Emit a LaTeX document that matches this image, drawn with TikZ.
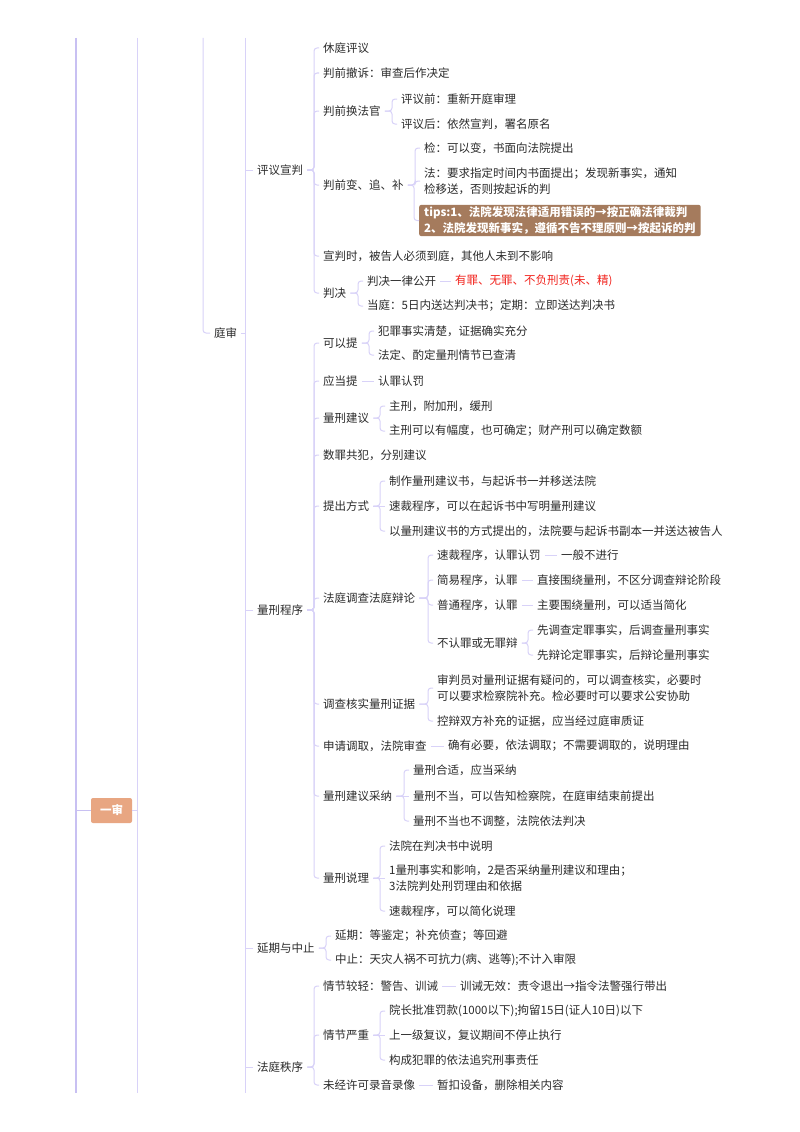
\documentclass[tikz,border=0pt]{standalone}
\usepackage{fontspec}
\setmainfont{Noto Sans CJK SC}
\usetikzlibrary{calc}
\definecolor{txt}{HTML}{2B2B2B}
\definecolor{ln}{HTML}{D8D2F8}
\definecolor{lnd}{HTML}{C8C0F2}
\definecolor{tipfill}{HTML}{A57B5D}
\definecolor{rootfill}{HTML}{E8A682}
\definecolor{redtxt}{HTML}{F2231D}
\newcommand\mmedge[2]{\draw[edge] (#2.west) -- ++(-5,0) |- (#1.east);}
\newcommand\mmline[2]{\draw[edge] (#1.east) -- (#2.west);}
\begin{document}
\begin{tikzpicture}[x=1pt,y=-1pt,
  t/.style={anchor=west, inner xsep=4pt, inner ysep=2pt, text=txt, font=\fontsize{11.5}{15.5}\selectfont, align=left},
  red/.style={t, text=redtxt},
  tipbox/.style={anchor=west, inner xsep=5pt, inner ysep=2pt, fill=tipfill, rounded corners=2pt, text=white, font=\fontsize{11.5}{15.5}\selectfont\bfseries, align=left},
  rootbox/.style={fill=rootfill, rounded corners=2pt, text=white, minimum width=41pt, minimum height=25pt, inner sep=0pt, font=\fontsize{11.5}{14}\selectfont\bfseries},
  edge/.style={draw=ln, line width=1pt, rounded corners=3pt},
  trunk/.style={draw=ln, line width=1pt},
  trunkd/.style={draw=lnd, line width=1.6pt}
]
\useasboundingbox (0,0) rectangle (800,1132);
\fill[white] (0,0) rectangle (800,1132);

% trunk lines
\coordinate (L1) at (76,0);
\coordinate (L2) at (137,0);
\coordinate (L4) at (245,0);
\draw[trunkd] (76,38) -- (76,1093);
\draw[trunk] (137,38) -- (137,1093);
\draw[trunk] (245,38) -- (245,1093);

% root
\node[rootbox] (ys) at (111.5,810.5) {一审};
\draw[trunkd] (ys.west) -- (ys.west -| L1);
\draw[trunk] (ys.east) -- (ys.east -| L2);

% 庭审
\node[t] (ts) at (210,333) {庭审};
\draw[edge] (203,38) |- (ts.west);
\draw[trunk] (ts.east) -- (ts.east -| L4);

% level A
\node[t] (pyxp) at (253,170) {评议宣判};
\node[t] (lxcx) at (253,610) {量刑程序};
\node[t] (yqzz) at (253,948) {延期与中止};
\node[t] (ftzx) at (253,1067) {法庭秩序};
\foreach \n in {pyxp,lxcx,yqzz,ftzx} \draw[trunk] (\n.west) -- (\n.west -| L4);

% ---- 评议宣判
\node[t] (a1) at (319,48) {休庭评议};
\node[t] (a2) at (319,73) {判前撤诉：审查后作决定};
\node[t] (a3) at (319,111) {判前换法官};
\node[t] (a31) at (397,99) {评议前：重新开庭审理};
\node[t] (a32) at (397,124) {评议后：依然宣判，署名原名};
\node[t] (a4) at (319,185) {判前变、追、补};
\node[t] (a41) at (420,148) {检：可以变，书面向法院提出};
\node[t] (a42) at (420,181) {法：要求指定时间内书面提出；发现新事实，通知\\检移送，否则按起诉的判};
\node[tipbox] (a43) at (419,220.5) {tips:1、法院发现法律适用错误的→按正确法律裁判\\2、法院发现新事实，遵循不告不理原则→按起诉的判};
\node[t] (a5) at (319,256) {宣判时，被告人必须到庭，其他人未到不影响};
\node[t] (a6) at (319,293) {判决};
\node[t] (a61) at (363,281) {判决一律公开};
\node[red] (a611) at (451,281) {有罪、无罪、不负刑责(未、精)};
\node[t] (a62) at (363,306) {当庭：5日内送达判决书；定期：立即送达判决书};
\foreach \c in {a1,a2,a3,a4,a5,a6} {\mmedge{pyxp}{\c}}
\foreach \c in {a31,a32} {\mmedge{a3}{\c}}
\foreach \c in {a41,a42,a43} {\mmedge{a4}{\c}}
\foreach \c in {a61,a62} {\mmedge{a6}{\c}}
\mmline{a61}{a611}

% ---- 量刑程序
\node[t] (b1) at (319,343) {可以提};
\node[t] (b11) at (374,331) {犯罪事实清楚，证据确实充分};
\node[t] (b12) at (374,355) {法定、酌定量刑情节已查清};
\node[t] (b2) at (319,381) {应当提};
\node[t] (b21) at (374,381) {认罪认罚};
\node[t] (b3) at (319,418) {量刑建议};
\node[t] (b31) at (385,406) {主刑，附加刑，缓刑};
\node[t] (b32) at (385,431) {主刑可以有幅度，也可确定；财产刑可以确定数额};
\node[t] (b4) at (319,455) {数罪共犯，分别建议};
\node[t] (b5) at (319,506) {提出方式};
\node[t] (b51) at (385,481) {制作量刑建议书，与起诉书一并移送法院};
\node[t] (b52) at (385,506) {速裁程序，可以在起诉书中写明量刑建议};
\node[t] (b53) at (385,531) {以量刑建议书的方式提出的，法院要与起诉书副本一并送达被告人};
\node[t] (b6) at (319,598) {法庭调查法庭辩论};
\node[t] (b61) at (433,555) {速裁程序，认罪认罚};
\node[t] (b611) at (557,555) {一般不进行};
\node[t] (b62) at (433,580) {简易程序，认罪};
\node[t] (b621) at (533,580) {直接围绕量刑，不区分调查辩论阶段};
\node[t] (b63) at (433,605) {普通程序，认罪};
\node[t] (b631) at (533,605) {主要围绕量刑，可以适当简化};
\node[t] (b64) at (433,643) {不认罪或无罪辩};
\node[t] (b641) at (533,630) {先调查定罪事实，后调查量刑事实};
\node[t] (b642) at (533,655) {先辩论定罪事实，后辩论量刑事实};
\node[t] (b7) at (319,704) {调查核实量刑证据};
\node[t] (b71) at (433,688) {审判员对量刑证据有疑问的，可以调查核实，必要时\\可以要求检察院补充。检必要时可以要求公安协助};
\node[t] (b72) at (433,721) {控辩双方补充的证据，应当经过庭审质证};
\node[t] (b8) at (319,746) {申请调取，法院审查};
\node[t] (b81) at (444,746) {确有必要，依法调取；不需要调取的，说明理由};
\node[t] (b9) at (319,796) {量刑建议采纳};
\node[t] (b91) at (409,770) {量刑合适，应当采纳};
\node[t] (b92) at (409,796) {量刑不当，可以告知检察院，在庭审结束前提出};
\node[t] (b93) at (409,821) {量刑不当也不调整，法院依法判决};
\node[t] (b10) at (319,878) {量刑说理};
\node[t] (b101) at (385,846) {法院在判决书中说明};
\node[t] (b102) at (385,878) {1量刑事实和影响，2是否采纳量刑建议和理由；\\3法院判处刑罚理由和依据};
\node[t] (b103) at (385,911) {速裁程序，可以简化说理};
\foreach \c in {b1,b2,b3,b4,b5,b7,b8,b9,b10} {\mmedge{lxcx}{\c}}
\draw[edge] (b6.west) -- ++(-5,0) |- (lxcx.east);
\foreach \c in {b11,b12} {\mmedge{b1}{\c}}
\mmline{b2}{b21}
\foreach \c in {b31,b32} {\mmedge{b3}{\c}}
\foreach \c in {b51,b53} {\mmedge{b5}{\c}}
\mmline{b5}{b52}
\foreach \c in {b61,b62,b63,b64} {\mmedge{b6}{\c}}
\mmline{b61}{b611}
\mmline{b62}{b621}
\mmline{b63}{b631}
\foreach \c in {b641,b642} {\mmedge{b64}{\c}}
\foreach \c in {b71,b72} {\mmedge{b7}{\c}}
\mmline{b8}{b81}
\foreach \c in {b91,b93} {\mmedge{b9}{\c}}
\mmline{b9}{b92}
\foreach \c in {b101,b103} {\mmedge{b10}{\c}}
\mmline{b10}{b102}

% ---- 延期与中止
\node[t] (c1) at (331,936) {延期：等鉴定；补充侦查；等回避};
\node[t] (c2) at (331,960) {中止：天灾人祸不可抗力(病、逃等);不计入审限};
\foreach \c in {c1,c2} {\mmedge{yqzz}{\c}}

% ---- 法庭秩序
\node[t] (d1) at (319,986) {情节较轻：警告、训诫};
\node[t] (d11) at (456,986) {训诫无效：责令退出→指令法警强行带出};
\node[t] (d2) at (319,1035) {情节严重};
\node[t] (d21) at (385,1011) {院长批准罚款(1000以下);拘留15日(证人10日)以下};
\node[t] (d22) at (385,1035) {上一级复议，复议期间不停止执行};
\node[t] (d23) at (385,1060) {构成犯罪的依法追究刑事责任};
\node[t] (d3) at (319,1085) {未经许可录音录像};
\node[t] (d31) at (433,1085) {暂扣设备，删除相关内容};
\foreach \c in {d1,d2,d3} {\mmedge{ftzx}{\c}}
\mmline{d1}{d11}
\foreach \c in {d21,d23} {\mmedge{d2}{\c}}
\mmline{d2}{d22}
\mmline{d3}{d31}
\end{tikzpicture}
\end{document}
